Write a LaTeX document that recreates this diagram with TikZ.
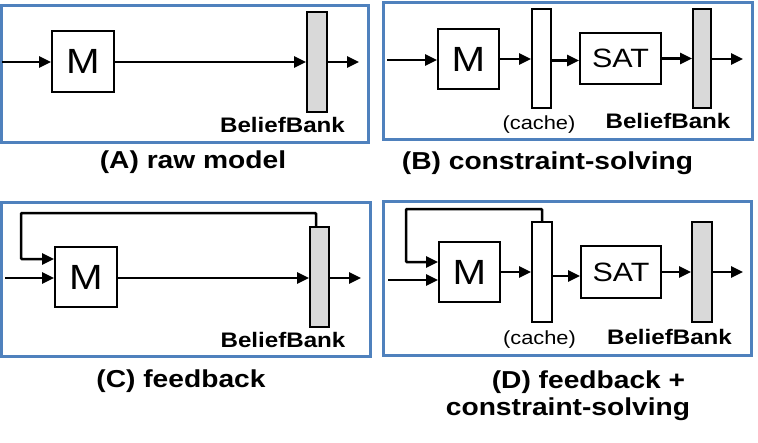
\documentclass[tikz,border=0pt]{standalone}
\usepackage{fontspec}
\setmainfont{Liberation Sans}[FakeStretch=1.15]
\usetikzlibrary{arrows.meta}
\definecolor{frameblue}{RGB}{79,129,189}
\definecolor{bbgray}{RGB}{217,217,217}
\tikzset{
  panel/.style={draw=frameblue, line width=3pt},
  blockbox/.style={draw=black, line width=2pt, fill=white, inner sep=0pt},
  mbox/.style={blockbox, font=\fontsize{35}{40}\selectfont},
  satbox/.style={blockbox, font=\fontsize{26.5}{30}\selectfont},
  cachebar/.style={blockbox},
  bankbar/.style={blockbox, fill=bbgray},
  flow/.style={line width=2.5pt, -{Triangle[length=12pt,width=11pt]}},
  feed/.style={line width=2.5pt, -{Triangle[length=12pt,width=11pt]}, rounded corners=1pt},
  banklabel/.style={anchor=base, inner sep=0pt, font=\bfseries\fontsize{21}{24}\selectfont},
  cachelabel/.style={anchor=base, inner sep=0pt, font=\fontsize{19}{22}\selectfont},
  caption/.style={anchor=base, inner sep=0pt, font=\bfseries\fontsize{24.5}{27}\selectfont}
}
\begin{document}
\begin{tikzpicture}[x=1pt,y=-1pt]
\useasboundingbox (0,0) rectangle (758,442);

% ---------- Panel A ----------
\draw[panel] (1,5) rectangle (368,142);
\node[mbox, minimum width=62pt, minimum height=61pt] (mA) at (83,61.5) {M};
\node[bankbar, minimum width=20pt, minimum height=100pt] (bbA) at (317,62) {};
\coordinate (inA) at (2,62);
\coordinate (outA) at (359,62);
\draw[flow] (inA) -- (mA.west |- inA);
\draw[flow] (mA.east |- inA) -- (bbA.west |- inA);
\draw[flow] (bbA.east |- inA) -- (outA);
\node[banklabel] (blA) at (282.5,132) {BeliefBank};
\node[caption] (capA) at (193,168) {(A) raw model};

% ---------- Panel B ----------
\draw[panel] (383,2) rectangle (752,139);
\node[mbox, minimum width=61pt, minimum height=60pt] (mB) at (468.5,59) {M};
\node[cachebar, minimum width=19pt, minimum height=99pt] (cacheB) at (541.5,58.5) {};
\node[satbox, minimum width=81pt, minimum height=51pt] (satB) at (620.5,58.5) {SAT};
\node[bankbar, minimum width=18pt, minimum height=99pt] (bbB) at (702,58.5) {};
\coordinate (inB) at (387,60);
\coordinate (outB) at (743,59);
\draw[flow] (inB) -- (mB.west |- inB);
\draw[flow] (mB.east) -- (cacheB.west |- mB.east);
\draw[flow] ([yshift=-2pt]cacheB.east) -- ([yshift=-2pt]satB.west);
\draw[flow] (satB.east) -- (bbB.west |- satB.east);
\draw[flow] (bbB.east |- outB) -- (outB);
\node[cachelabel] (clB) at (539,129) {(cache)};
\node[banklabel] (blB) at (668,128) {BeliefBank};
\node[caption] (capB) at (547.5,169) {(B) constraint-solving};

% ---------- Panel C ----------
\draw[panel] (1,202) rectangle (370,356);
\node[mbox, minimum width=62pt, minimum height=60pt] (mC) at (86,277) {M};
\node[bankbar, minimum width=19pt, minimum height=100pt] (bbC) at (319.5,277) {};
\coordinate (inC) at (5,278);
\coordinate (outC) at (361,278);
\coordinate (fbCa) at (316,213);
\coordinate (fbCb) at (21,213);
\coordinate (fbCc) at (21,259);
\draw[flow] (inC) -- (mC.west |- inC);
\draw[flow] (mC.east |- inC) -- (bbC.west |- inC);
\draw[flow] (bbC.east |- outC) -- (outC);
\draw[feed] (bbC.north -| fbCa) -- (fbCa) -- (fbCb) -- (fbCc) -- (mC.west |- fbCc);
\node[banklabel] (blC) at (283,347) {BeliefBank};
\node[caption] (capC) at (181,387) {(C) feedback};

% ---------- Panel D ----------
\draw[panel] (383,201) rectangle (751,355);
\node[mbox, minimum width=61pt, minimum height=60pt] (mD) at (469.5,272) {M};
\node[cachebar, minimum width=20pt, minimum height=100pt] (cacheD) at (542,272) {};
\node[satbox, minimum width=80pt, minimum height=52pt] (satD) at (621,272) {SAT};
\node[bankbar, minimum width=20pt, minimum height=100pt] (bbD) at (702,272) {};
\coordinate (inD) at (388,280);
\coordinate (outD) at (743,272);
\coordinate (fbDa) at (542,209);
\coordinate (fbDb) at (406,209);
\coordinate (fbDc) at (406,262);
\draw[flow] (inD) -- (mD.west |- inD);
\draw[flow] (mD.east) -- (cacheD.west |- mD.east);
\draw[flow] ([yshift=-4pt]cacheD.east) -- ([yshift=-4pt]satD.west);
\draw[flow] (satD.east) -- (bbD.west |- satD.east);
\draw[flow] (bbD.east) -- (outD);
\draw[feed] (cacheD.north) -- (fbDa) -- (fbDb) -- (fbDc) -- (mD.west |- fbDc);
\node[cachelabel] (clD) at (539.5,344) {(cache)};
\node[banklabel] (blD) at (669.5,344) {BeliefBank};
\node[caption] (capD1) at (588.5,388) {(D) feedback +};
\node[caption] (capD2) at (568,415) {constraint-solving};
\end{tikzpicture}
\end{document}
